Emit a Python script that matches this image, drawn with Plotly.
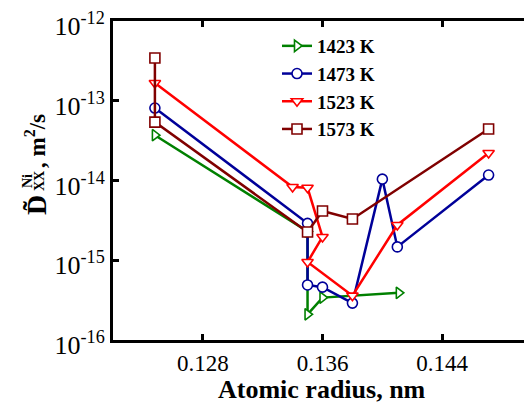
import plotly.graph_objects as go

# 1423 K
x1423 = [0.1248, 0.135, 0.135, 0.136, 0.1411]
y1423 = [3.7e-14, 2.3e-15, 2.1e-16, 3.4e-16, 3.9e-16]
# 1473 K
x1473 = [0.1248, 0.135, 0.135, 0.136, 0.138, 0.140, 0.141, 0.1471]
y1473 = [8.1e-14, 2.9e-15, 4.9e-16, 4.6e-16, 2.9e-16, 1.04e-14, 1.47e-15, 1.17e-14]
# 1523 K
x1523 = [0.1248, 0.134, 0.135, 0.136, 0.135, 0.138, 0.141, 0.1471]
y1523 = [1.67e-13, 8.3e-15, 8.1e-15, 1.96e-15, 9.5e-16, 3.6e-16, 2.77e-15, 2.21e-14]
# 1573 K
x1573 = [0.1248, 0.1248, 0.135, 0.136, 0.138, 0.1471]
y1573 = [3.44e-13, 5.4e-14, 2.26e-15, 4.15e-15, 3.29e-15, 4.42e-14]

series = [
    ("1423 K", x1423, y1423, "#008000", "triangle-right"),
    ("1473 K", x1473, y1473, "#000099", "circle"),
    ("1523 K", x1523, y1523, "#ff0000", "triangle-down"),
    ("1573 K", x1573, y1573, "#800000", "square"),
]

yticks = [1e-16, 1e-15, 1e-14, 1e-13, 1e-12]
yticktext = ["10<sup>-16</sup>", "10<sup>-15</sup>", "10<sup>-14</sup>", "10<sup>-13</sup>", "10<sup>-12</sup>"]
xticks = [0.128, 0.136, 0.144]
xticktext = ["0.128", "0.136", "0.144"]

W, H = 532, 410
ML, MR, MT, MB = 105, 8, 13, 78
PW, PH = W - ML - MR, H - MT - MB
OFF = 8  # page body margin


def px2paper(px, py):
    """window pixel -> paper fraction"""
    fx, fy = px - OFF, py - OFF
    return (fx - ML) / PW, 1 - (fy - MT) / PH


fig = go.Figure()
for i, (name, xs, ys, col, sym) in enumerate(series):
    fig.add_trace(go.Scatter(
        x=xs, y=ys, name=name, mode="lines+markers",
        line=dict(color=col, width=2.5),
        marker=dict(symbol=sym, size=10, color="white", line=dict(color=col, width=1.6)),
    ))

serif = "Liberation Serif"

# axis titles as positioned text (y title has stacked sub/superscript)
pieces = [
    ("D\u0303", 28, 36, 205, -90),
    ("Ni", 14, 28, 181, -90),
    ("XX", 14, 40, 181, -90),
    (", m<sup>2</sup>/s", 23, 35, 141, -90),
    ("Atomic radius, nm", 26, 322, 389, 0),
]
for txt, sz, wx, wy, ang in pieces:
    ax_, ay_ = px2paper(wx, wy)
    fig.add_annotation(
        text=txt, x=ax_, y=ay_, xref="paper", yref="paper",
        xanchor="center", yanchor="middle", showarrow=False, textangle=ang,
        font=dict(family=serif, size=sz, color="black", weight="bold"),
    )

lx, ly = px2paper(277, 27)
fig.update_layout(
    width=W, height=H,
    margin=dict(l=ML, r=MR, t=MT, b=MB),
    paper_bgcolor="white", plot_bgcolor="white",
    font=dict(family=serif, color="black"),
    showlegend=True,
    legend=dict(
        x=lx, y=ly, xanchor="left", yanchor="top",
        bgcolor="rgba(0,0,0,0)", font=dict(family=serif, size=19, color="black", weight="bold"),
    ),
    xaxis=dict(
        range=[0.122, 0.150], tickvals=xticks, ticktext=xticktext,
        ticks="inside", ticklen=6, tickwidth=3, tickcolor="black",
        showline=True, linecolor="black", linewidth=3, mirror="ticks",
        showgrid=False, zeroline=False, automargin=False,
        tickfont=dict(family=serif, size=23), ticklabeloverflow="allow",
    ),
    yaxis=dict(
        type="log", range=[-16, -12], tickvals=yticks, ticktext=yticktext,
        ticks="inside", ticklen=6, tickwidth=3, tickcolor="black",
        showline=True, linecolor="black", linewidth=3,
        showgrid=False, zeroline=False, automargin=False,
        tickfont=dict(family=serif, size=26), ticklabeloverflow="allow",
        ticklabelshift=5,
    ),
)

fig.write_html("out.html")
